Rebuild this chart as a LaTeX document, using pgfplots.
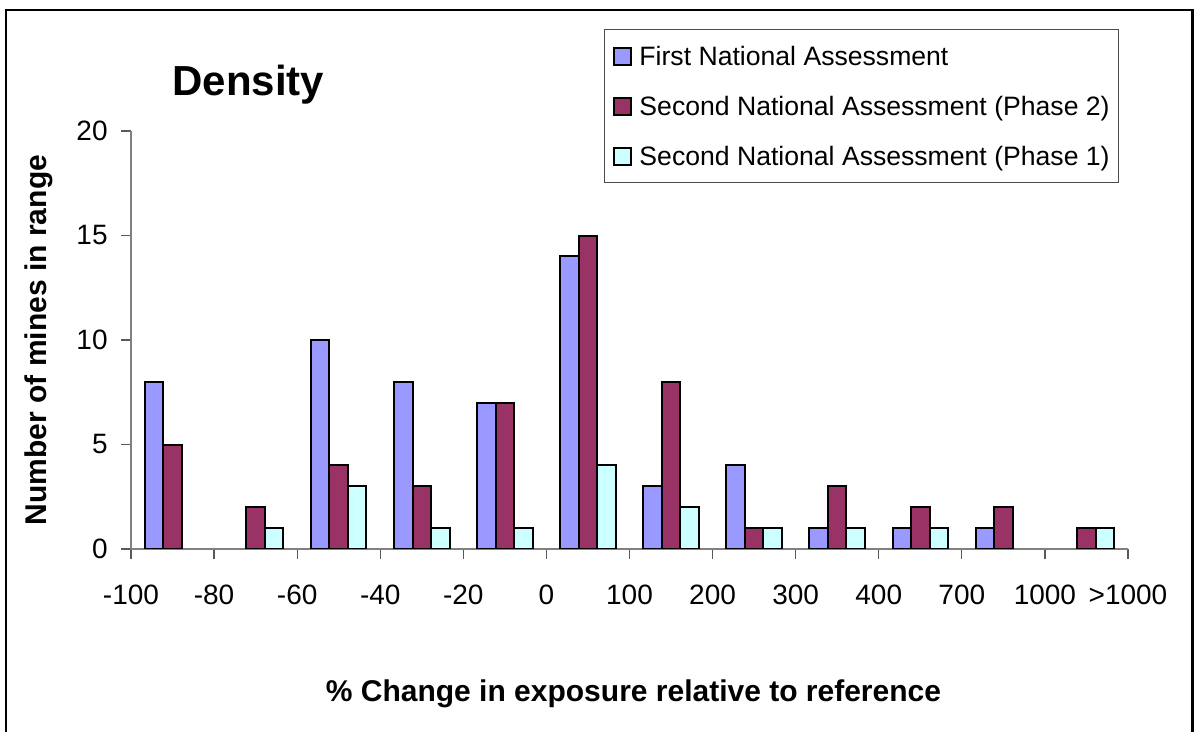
\documentclass[border=0pt]{standalone}
\usepackage{fontspec}
\setmainfont{Liberation Sans}
\usepackage{pgfplots}
\pgfplotsset{compat=1.18}

\definecolor{firstna}{HTML}{9999FF}
\definecolor{secondptwo}{HTML}{993366}
\definecolor{secondpone}{HTML}{CCFFFF}
\definecolor{axisgray}{HTML}{808080}

\begin{document}
\begin{tikzpicture}
\useasboundingbox (0bp,0bp) rectangle (598bp,366bp);
\begin{axis}[
  at={(65.5bp,91.5bp)}, anchor=south west,
  scale only axis, width=498.5bp, height=209bp,
  xmin=0, xmax=12, ymin=0, ymax=20,
  axis x line=bottom, axis y line=left,
  axis line style={-, draw=axisgray, line width=0.75bp},
  tick align=outside, major tick length=5bp,
  tick style={draw=black!65, line width=0.6bp},
  xtick={0,...,12},
  xticklabels={-100,-80,-60,-40,-20,0,100,200,300,400,700,1000,>1000},
  ytick={0,5,10,15,20},
  /pgf/number format/assume math mode=true,
  ticklabel style={font=\fontsize{14bp}{17bp}\selectfont, inner sep=0pt},
  xticklabel style={anchor=base, yshift=-22.5bp},
  yticklabel style={anchor=east, xshift=-6.5bp},
  ybar=0pt, bar width=0.2226,
  every axis plot post/.append style={
    draw=black, line width=1bp,
    legend image code/.code={\draw[##1] (0bp,-4.25bp) rectangle (8.5bp,4.25bp);}},
  legend style={at={(axis description cs:0.4744,1.244)}, anchor=north west,
    draw=black!70, line width=0.5bp, inner xsep=4.5bp, inner ysep=6.5bp,
    row sep=11.5bp, column sep=3.5bp,
    font=\fontsize{13.3bp}{16bp}\selectfont,
    nodes={inner sep=0pt, text height=11.5bp, text depth=2bp}},
  legend cell align=left,
  title={Density},
  title style={font=\bfseries\fontsize{21bp}{25bp}\selectfont, inner sep=0pt,
    anchor=base west, at={(axis description cs:0.0411,1.0574)}},
  xlabel={\% Change in exposure relative to reference},
  xlabel style={font=\bfseries\fontsize{15bp}{18bp}\selectfont, inner sep=0pt,
    anchor=base, at={(axis description cs:0.504,-0.366)}},
  ylabel={Number of mines in range},
  ylabel style={font=\bfseries\fontsize{15bp}{18bp}\selectfont, inner sep=0pt,
    anchor=center, rotate=0, at={(axis description cs:-0.0923,0.5)}},
]
% First National Assessment
\addplot[fill=firstna] coordinates {
  (0.5,8) (2.5,10) (3.5,8) (4.5,7) (5.5,14) (6.5,3) (7.5,4) (8.5,1) (9.5,1) (10.5,1)};
% Second National Assessment, phase 2
\addplot[fill=secondptwo] coordinates {
  (0.5,5) (1.5,2) (2.5,4) (3.5,3) (4.5,7) (5.5,15) (6.5,8) (7.5,1) (8.5,3) (9.5,2) (10.5,2) (11.5,1)};
% Second National Assessment, phase 1
\addplot[fill=secondpone] coordinates {
  (1.5,1) (2.5,3) (3.5,1) (4.5,1) (5.5,4) (6.5,2) (7.5,1) (8.5,1) (9.5,1) (11.5,1)};
\legend{First National Assessment,
  Second National Assessment (Phase 2),
  Second National Assessment (Phase 1)}
\end{axis}
% outer frame
\draw[line width=1.25bp] (3bp,-2bp) -- (3bp,361bp) -- (596.25bp,361bp) -- (596.25bp,-2bp);
\end{tikzpicture}
\end{document}
